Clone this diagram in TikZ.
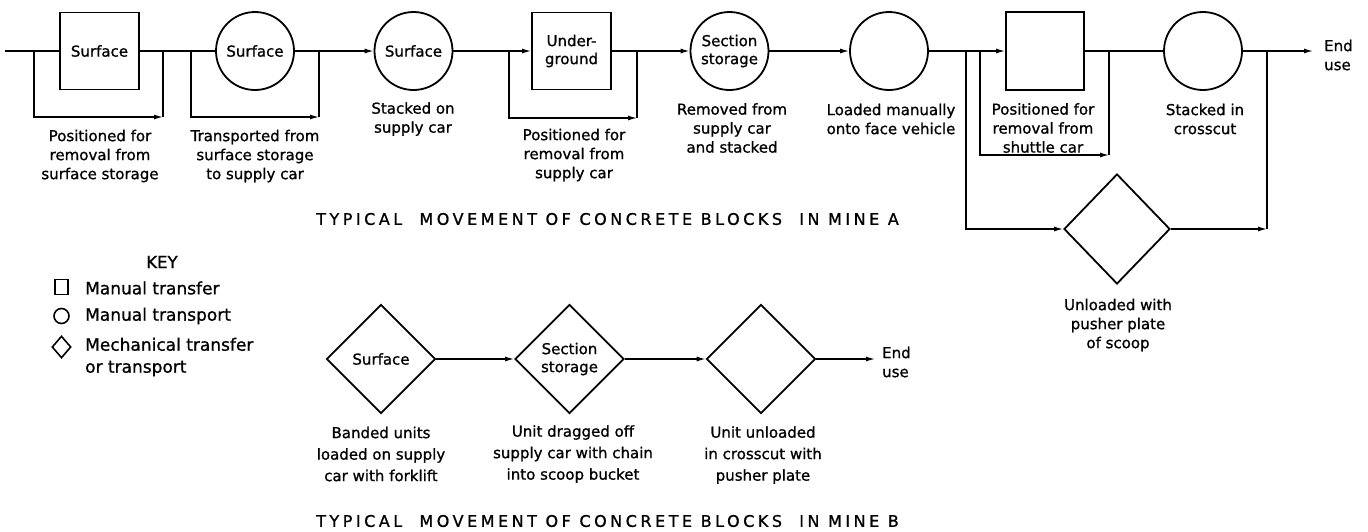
\documentclass[tikz,border=0pt]{standalone}
\usepackage{fontspec}
\setmainfont{DejaVu Sans}[FakeBold=1.0]
\usetikzlibrary{shapes.geometric,arrows.meta}
\begin{document}
\begin{tikzpicture}[x=1pt,y=-1pt,
  shp/.style={draw,line width=1.8pt,inner sep=0pt,font=\fontsize{15}{18}\selectfont,align=center},
  sq/.style={shp,rectangle,minimum width=79pt,minimum height=77pt},
  circ/.style={shp,circle,minimum size=78pt},
  dia/.style={shp,diamond,minimum width=109pt,minimum height=109pt},
  lbl/.style={align=center,font=\fontsize{15}{19}\selectfont,inner sep=0pt},
  lblb/.style={align=center,font=\fontsize{15}{21.5}\selectfont,inner sep=0pt},
  keytxt/.style={align=left,anchor=west,font=\fontsize{17}{22}\selectfont,inner sep=0pt},
  keysym/.style={draw,line width=1.6pt,inner sep=0pt},
  conn/.style={line width=1.3pt},
  arr/.style={conn,-{Latex[length=9pt,width=5pt]}},
  ttl/.style={font=\fontsize{16}{19}\selectfont\addfontfeature{LetterSpace=22},inner sep=0pt},
]
\useasboundingbox (0,0) rectangle (1368,531);

% ---------- Mine A ----------
\node[sq]   (s1) at (99.5,51)  {Surface};
\node[circ] (c2) at (255,51)   {Surface};
\node[circ] (c3) at (413.5,51) {Surface};
\node[sq]   (s2) at (571.5,51) {Under-\\ground};
\node[circ] (c4) at (729.5,51) {Section\\storage};
\node[circ] (c5) at (889,51)   {};
\node[sq, minimum width=78pt, minimum height=78pt] (s3) at (1045,51) {};
\node[circ] (c6) at (1203,51)  {};
\node[dia, minimum width=106pt, minimum height=110pt] (dA) at (1117,229) {};

\coordinate (start) at (5,51);
\coordinate (b1a) at (34,51);  \coordinate (b1b) at (163,51);  \coordinate (k1) at (163,117);
\coordinate (b2a) at (191,51); \coordinate (b2b) at (319,51);  \coordinate (k2) at (319,117);
\coordinate (b3a) at (509,51); \coordinate (b3b) at (637,51);  \coordinate (k3) at (637,118);
\coordinate (b4a) at (980,51); \coordinate (b4b) at (1109,51); \coordinate (k4) at (1109,155);
\coordinate (b5a) at (966,51); \coordinate (b5b) at (1267,51); \coordinate (k5) at (1267,229);
\coordinate (endA) at (1313,51);

\draw[conn] (start) -- (s1);
\draw[conn] (s1) -- (c2);
\draw[arr] (c2) -- (c3);
\draw[arr] (c3) -- (s2);
\draw[arr] (s2) -- (c4);
\draw[arr] (c4) -- (c5);
\draw[arr] (c5) -- (s3);
\draw[conn] (s3) -- (c6);
\draw[arr] (c6) -- (endA);

\draw[arr] (b1a) |- (k1); \draw[conn] (k1) -- (b1b);
\draw[arr] (b2a) |- (k2); \draw[conn] (k2) -- (b2b);
\draw[arr] (b3a) |- (k3); \draw[conn] (k3) -- (b3b);
\draw[arr] (b4a) |- (k4); \draw[conn] (k4) -- (b4b);
\draw[arr] (b5a) |- (dA);
\draw[arr] (dA) -- (k5); \draw[conn] (k5) -- (b5b);

\node[lbl] (t1) at (100,156) {Positioned for\\removal from\\surface storage};
\node[lbl] (t2) at (255,156) {Transported from\\surface storage\\to supply car};
\node[lbl] (t3) at (413,119) {Stacked on\\supply car};
\node[lbl] (t4) at (574,155) {Positioned for\\removal from\\supply car};
\node[lbl] (t5) at (732,128) {Removed from\\supply car\\and stacked};
\node[lbl] (t6) at (891,119) {Loaded manually\\onto face vehicle};
\node[lbl] (t7) at (1043,128) {Positioned for\\removal from\\shuttle car};
\node[lbl] (t8) at (1205,119) {Stacked in\\crosscut};
\node[lbl] (t9) at (1118,325) {Unloaded with\\pusher plate\\of scoop};
\node[lbl, align=left, anchor=west] (eA) at (1324,55) {End\\use};

\node[ttl] (titleA) at (607.5,219) {TYPICAL\ \ MOVEMENT OF CONCRETE BLOCKS\ \ IN MINE A};

% ---------- Key ----------
\node[font=\fontsize{16.5}{20}\selectfont, inner sep=0pt] (key) at (162,262) {KEY};
\node[keysym, rectangle, minimum width=13pt, minimum height=15pt] (ksq) at (61.5,287) {};
\node[keysym, circle, minimum size=15pt] (kci) at (61.5,316) {};
\node[keysym, diamond, minimum width=19pt, minimum height=22pt] (kdi) at (61.5,347) {};
\node[keytxt] (k1t) at (85,288) {Manual transfer};
\node[keytxt] (k2t) at (85,316) {Manual transport};
\node[keytxt] (k3t) at (85,357) {Mechanical transfer\\or transport};

% ---------- Mine B ----------
\node[dia] (d1) at (381,359)   {Surface};
\node[dia] (d2) at (569.5,359) {Section\\storage};
\node[dia] (d3) at (761,359)   {};
\coordinate (endB) at (875,359);
\draw[arr] (d1) -- (d2);
\draw[arr] (d2) -- (d3);
\draw[arr] (d3) -- (endB);

\node[lblb] (u1) at (381,454) {Banded units\\loaded on supply\\car with forklift};
\node[lblb] (u2) at (573,454) {Unit dragged off\\supply car with chain\\into scoop bucket};
\node[lblb] (u3) at (763,455) {Unit unloaded\\in crosscut with\\pusher plate};
\node[lbl, align=left, anchor=west] (eB) at (882,362) {End\\use};

\node[ttl] (titleB) at (607.5,521) {TYPICAL\ \ MOVEMENT OF CONCRETE BLOCKS\ \ IN MINE B};
\end{tikzpicture}
\end{document}
